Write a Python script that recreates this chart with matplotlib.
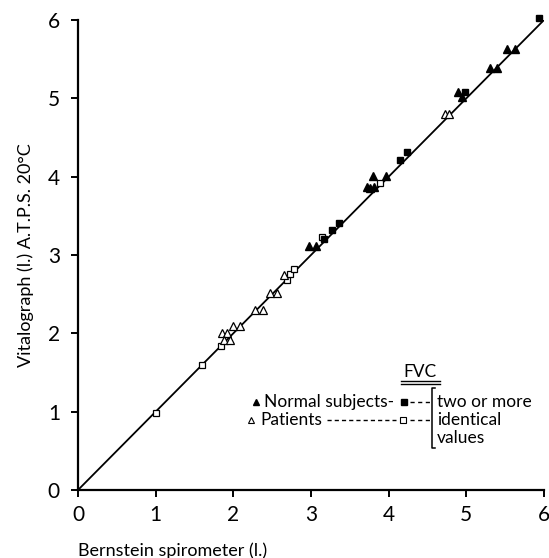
import matplotlib
matplotlib.use('Agg')
import matplotlib.pyplot as plt
from matplotlib.lines import Line2D

plt.rcParams['font.family'] = ['Lato', 'DejaVu Sans']

# normal subjects (filled triangles)
normal_x = [2.97, 3.07, 3.72, 3.76, 3.81, 3.80, 3.96, 4.89, 4.94, 5.30, 5.39, 5.53, 5.63]
normal_y = [3.12, 3.12, 3.87, 3.85, 3.87, 4.01, 4.01, 5.08, 5.02, 5.39, 5.39, 5.63, 5.63]
# normal subjects, two or more identical values (filled squares)
normal_same_x = [3.17, 3.27, 3.36, 4.15, 4.24, 4.98, 5.94]
normal_same_y = [3.20, 3.32, 3.41, 4.21, 4.31, 5.08, 6.02]
# patients (open triangles)
patient_x = [1.86, 1.92, 1.88, 1.96, 1.99, 2.08, 2.28, 2.38, 2.47, 2.56, 2.65, 4.72, 4.78]
patient_y = [2.01, 2.01, 1.92, 1.92, 2.10, 2.10, 2.30, 2.30, 2.51, 2.51, 2.75, 4.80, 4.80]
# patients, two or more identical values (open squares)
patient_same_x = [1.00, 1.60, 1.84, 2.69, 2.73, 2.78, 3.14, 3.89]
patient_same_y = [0.98, 1.60, 1.84, 2.68, 2.76, 2.82, 3.23, 3.92]

ticks = [0, 1, 2, 3, 4, 5, 6]

W, H = 549, 558
fig = plt.figure(figsize=(W / 100, H / 100), dpi=100)
ax = fig.add_axes([78 / W, 1 - 490 / H, (544 - 78) / W, (490 - 20) / H])

ax.plot([0, 6], [0, 6], color='black', lw=1.3, zorder=1)
ax.plot(patient_same_x, patient_same_y, 's', ms=4.5, mfc='white', mec='black', mew=0.9, clip_on=False, zorder=3)
ax.plot(patient_x, patient_y, '^', ms=5.5, mfc='white', mec='black', mew=0.9, clip_on=False, zorder=3)
ax.plot(normal_same_x, normal_same_y, 's', ms=5, color='black', clip_on=False, zorder=3)
ax.plot(normal_x, normal_y, '^', ms=5.5, color='black', clip_on=False, zorder=3)

ax.set_xlim(0, 6)
ax.set_ylim(0, 6)
ax.set_xticks(ticks)
ax.set_yticks(ticks)
ax.spines['top'].set_visible(False)
ax.spines['right'].set_visible(False)
ax.spines['left'].set_linewidth(1.6)
ax.spines['bottom'].set_linewidth(1.6)
ax.tick_params(direction='out', length=5, width=1.4, labelsize=15)
ax.tick_params(axis='x', pad=6)
ax.tick_params(axis='y', pad=8)

ax.set_xlabel('Bernstein spirometer (l.)', fontsize=13, loc='left', labelpad=12)
ax.set_ylabel('Vitalograph (l.) A.T.P.S. 20°C', fontsize=13, labelpad=10)


def fp(x, y):
    return x / W, 1 - y / H


# FVC key
fs = 12.5
fig.text(*fp(420, 372), 'FVC', fontsize=fs, ha='center', va='center')
for yy in (381, 384):
    fig.add_artist(Line2D([401 / W, 440 / W], [1 - yy / H, 1 - yy / H], color='black', lw=1))

fig.add_artist(Line2D([fp(256, 402)[0]], [fp(256, 402)[1]], marker='^', ms=5, color='black'))
fig.text(*fp(264, 402), 'Normal subjects-', fontsize=fs, va='center')
fig.add_artist(Line2D([fp(404, 402)[0]], [fp(404, 402)[1]], marker='s', ms=4.5, color='black'))

fig.add_artist(Line2D([fp(251, 420)[0]], [fp(251, 420)[1]], marker='^', ms=5, mfc='white', mec='black', mew=0.8))
fig.text(*fp(260, 420), 'Patients', fontsize=fs, va='center')
fig.add_artist(Line2D([327 / W, 396 / W], [1 - 420 / H, 1 - 420 / H], color='black', lw=1, ls=(0, (3, 2.2))))
fig.add_artist(Line2D([fp(403, 420)[0]], [fp(403, 420)[1]], marker='s', ms=4, mfc='white', mec='black', mew=0.8))

for yy in (402, 420):
    fig.add_artist(Line2D([410 / W, 431 / W], [1 - yy / H, 1 - yy / H], color='black', lw=1, ls=(0, (3, 2.5))))

# bracket
bx = [435, 432, 432, 435]
by = [388, 388, 448, 448]
fig.add_artist(Line2D([b / W for b in bx], [1 - b / H for b in by], color='black', lw=1.1))

fig.text(*fp(437, 402), 'two or more', fontsize=fs, va='center')
fig.text(*fp(437, 420), 'identical', fontsize=fs, va='center')
fig.text(*fp(437, 438), 'values', fontsize=fs, va='center')

fig.savefig('out.png', dpi=100, facecolor='white')
